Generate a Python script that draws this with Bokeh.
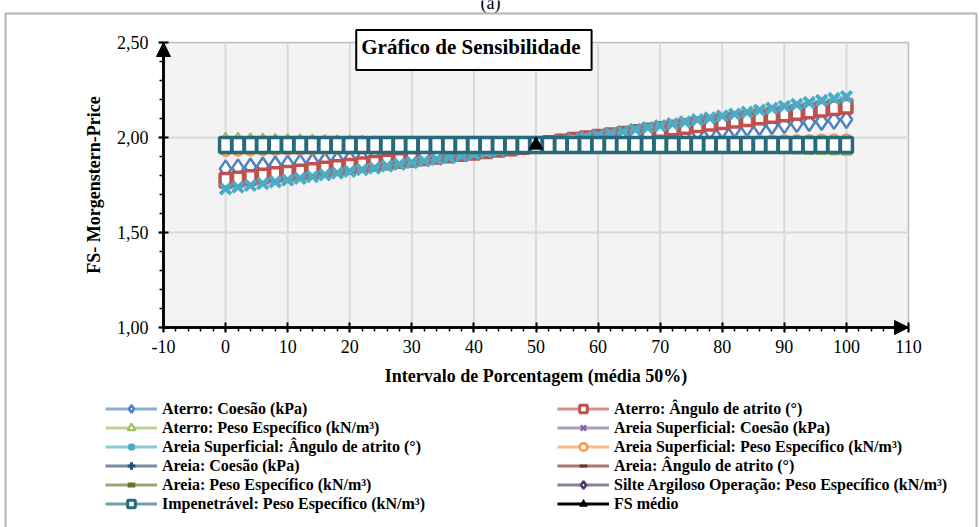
from bokeh.plotting import figure
from bokeh.models import (Range1d, FixedTicker, Legend, LegendItem, Label, Arrow,
                          NormalHead, CustomJSTickFormatter, BoxAnnotation)
from bokeh.embed import file_html
from bokeh.resources import INLINE

# ---------------- data ----------------
X = [0, 2, 4, 6, 8, 10, 12, 14, 16, 18, 20, 22, 24, 26, 28, 30, 32, 34, 36, 38,
     40, 42, 44, 46, 48, 50, 52, 54, 56, 58, 60, 62, 64, 66, 68, 70, 72, 74, 76, 78,
     80, 82, 84, 86, 88, 90, 92, 94, 96, 98, 100]

aterro_coesao = [1.835, 1.840, 1.845, 1.850, 1.855, 1.860, 1.865, 1.870, 1.875, 1.880,
                 1.885, 1.890, 1.895, 1.900, 1.905, 1.910, 1.915, 1.920, 1.925, 1.930,
                 1.935, 1.940, 1.945, 1.950, 1.955, 1.960, 1.965, 1.971, 1.976, 1.982,
                 1.987, 1.992, 1.998, 2.003, 2.009, 2.014, 2.019, 2.025, 2.030, 2.036,
                 2.041, 2.046, 2.052, 2.057, 2.063, 2.068, 2.073, 2.079, 2.084, 2.090, 2.095]
aterro_angulo = [1.775, 1.782, 1.790, 1.797, 1.805, 1.812, 1.819, 1.827, 1.834, 1.842,
                 1.849, 1.856, 1.864, 1.871, 1.879, 1.886, 1.893, 1.901, 1.908, 1.916,
                 1.923, 1.930, 1.938, 1.945, 1.953, 1.960, 1.968, 1.976, 1.985, 1.993,
                 2.001, 2.009, 2.017, 2.026, 2.034, 2.042, 2.050, 2.058, 2.067, 2.075,
                 2.083, 2.091, 2.099, 2.108, 2.116, 2.124, 2.132, 2.140, 2.149, 2.157, 2.165]
aterro_peso = [1.995, 1.994, 1.992, 1.991, 1.989, 1.988, 1.987, 1.985, 1.984, 1.982,
               1.981, 1.980, 1.978, 1.977, 1.975, 1.974, 1.973, 1.971, 1.970, 1.968,
               1.967, 1.966, 1.964, 1.963, 1.961, 1.960, 1.959, 1.957, 1.956, 1.954,
               1.953, 1.952, 1.950, 1.949, 1.947, 1.946, 1.945, 1.943, 1.942, 1.940,
               1.939, 1.938, 1.936, 1.935, 1.933, 1.932, 1.931, 1.929, 1.928, 1.926, 1.925]
areia_sup_coesao = [1.960, 1.960, 1.960, 1.960, 1.960, 1.960, 1.960, 1.960, 1.960, 1.960,
                    1.960, 1.960, 1.960, 1.960, 1.960, 1.960, 1.960, 1.960, 1.960, 1.960,
                    1.960, 1.960, 1.960, 1.960, 1.960, 1.960, 1.960, 1.960, 1.960, 1.960,
                    1.960, 1.960, 1.960, 1.960, 1.960, 1.960, 1.960, 1.960, 1.960, 1.960,
                    1.960, 1.960, 1.960, 1.960, 1.960, 1.960, 1.960, 1.960, 1.960, 1.960, 1.960]
areia_sup_angulo = [1.730, 1.739, 1.748, 1.758, 1.767, 1.776, 1.785, 1.794, 1.804, 1.813,
                    1.822, 1.831, 1.840, 1.850, 1.859, 1.868, 1.877, 1.886, 1.896, 1.905,
                    1.914, 1.923, 1.932, 1.942, 1.951, 1.960, 1.970, 1.980, 1.991, 2.001,
                    2.011, 2.021, 2.031, 2.042, 2.052, 2.062, 2.072, 2.082, 2.093, 2.103,
                    2.113, 2.123, 2.133, 2.144, 2.154, 2.164, 2.174, 2.184, 2.195, 2.205, 2.215]
areia_sup_peso = [1.930, 1.931, 1.932, 1.934, 1.935, 1.936, 1.937, 1.938, 1.940, 1.941,
                  1.942, 1.943, 1.944, 1.946, 1.947, 1.948, 1.949, 1.950, 1.952, 1.953,
                  1.954, 1.955, 1.956, 1.958, 1.959, 1.960, 1.961, 1.962, 1.964, 1.965,
                  1.966, 1.967, 1.968, 1.970, 1.971, 1.972, 1.973, 1.974, 1.976, 1.977,
                  1.978, 1.979, 1.980, 1.982, 1.983, 1.984, 1.985, 1.986, 1.988, 1.989, 1.990]
areia_coesao = [1.960, 1.960, 1.960, 1.960, 1.960, 1.960, 1.960, 1.960, 1.960, 1.960,
                1.960, 1.960, 1.960, 1.960, 1.960, 1.960, 1.960, 1.960, 1.960, 1.960,
                1.960, 1.960, 1.960, 1.960, 1.960, 1.960, 1.960, 1.960, 1.960, 1.960,
                1.960, 1.960, 1.960, 1.960, 1.960, 1.960, 1.960, 1.960, 1.960, 1.960,
                1.960, 1.960, 1.960, 1.960, 1.960, 1.960, 1.960, 1.960, 1.960, 1.960, 1.960]
areia_angulo = [1.960, 1.960, 1.960, 1.960, 1.960, 1.960, 1.960, 1.960, 1.960, 1.960,
                1.960, 1.960, 1.960, 1.960, 1.960, 1.960, 1.960, 1.960, 1.960, 1.960,
                1.960, 1.960, 1.960, 1.960, 1.960, 1.960, 1.960, 1.960, 1.960, 1.960,
                1.960, 1.960, 1.960, 1.960, 1.960, 1.960, 1.960, 1.960, 1.960, 1.960,
                1.960, 1.960, 1.960, 1.960, 1.960, 1.960, 1.960, 1.960, 1.960, 1.960, 1.960]
areia_peso = [1.960, 1.960, 1.960, 1.960, 1.960, 1.960, 1.960, 1.960, 1.960, 1.960,
              1.960, 1.960, 1.960, 1.960, 1.960, 1.960, 1.960, 1.960, 1.960, 1.960,
              1.960, 1.960, 1.960, 1.960, 1.960, 1.960, 1.960, 1.960, 1.960, 1.960,
              1.960, 1.960, 1.960, 1.960, 1.960, 1.960, 1.960, 1.960, 1.960, 1.960,
              1.960, 1.960, 1.960, 1.960, 1.960, 1.960, 1.960, 1.960, 1.960, 1.960, 1.960]
silte_peso = [1.960, 1.960, 1.960, 1.960, 1.960, 1.960, 1.960, 1.960, 1.960, 1.960,
              1.960, 1.960, 1.960, 1.960, 1.960, 1.960, 1.960, 1.960, 1.960, 1.960,
              1.960, 1.960, 1.960, 1.960, 1.960, 1.960, 1.960, 1.960, 1.960, 1.960,
              1.960, 1.960, 1.960, 1.960, 1.960, 1.960, 1.960, 1.960, 1.960, 1.960,
              1.960, 1.960, 1.960, 1.960, 1.960, 1.960, 1.960, 1.960, 1.960, 1.960, 1.960]
impenetravel_peso = [1.960, 1.960, 1.960, 1.960, 1.960, 1.960, 1.960, 1.960, 1.960, 1.960,
                     1.960, 1.960, 1.960, 1.960, 1.960, 1.960, 1.960, 1.960, 1.960, 1.960,
                     1.960, 1.960, 1.960, 1.960, 1.960, 1.960, 1.960, 1.960, 1.960, 1.960,
                     1.960, 1.960, 1.960, 1.960, 1.960, 1.960, 1.960, 1.960, 1.960, 1.960,
                     1.960, 1.960, 1.960, 1.960, 1.960, 1.960, 1.960, 1.960, 1.960, 1.960, 1.960]
fs_medio_x = [50]
fs_medio_y = [1.96]

series_names = [
    "Aterro: Coesão (kPa)",
    "Aterro: Ângulo de atrito (°)",
    "Aterro: Peso Específico (kN/m³)",
    "Areia Superficial: Coesão (kPa)",
    "Areia Superficial: Ângulo de atrito (°)",
    "Areia Superficial: Peso Específico (kN/m³)",
    "Areia: Coesão (kPa)",
    "Areia: Ângulo de atrito (°)",
    "Areia: Peso Específico (kN/m³)",
    "Silte Argiloso Operação: Peso Específico (kN/m³)",
    "Impenetrável: Peso Específico (kN/m³)",
    "FS médio",
]
series_values = [aterro_coesao, aterro_angulo, aterro_peso, areia_sup_coesao,
                 areia_sup_angulo, areia_sup_peso, areia_coesao, areia_angulo,
                 areia_peso, silte_peso, impenetravel_peso]

X_TICKS = [-10, 0, 10, 20, 30, 40, 50, 60, 70, 80, 90, 100, 110]
Y_TICKS = [1.0, 1.5, 2.0, 2.5]
X_AXIS = (-10, 110)
Y_AXIS = (1.0, 2.5)
# visible window around the plot area (room for axes, title and legend)
X_VIEW = (-36.255, 121.597)
Y_VIEW = (-0.0526, 2.7211)

# ---------------- styles ----------------
colors = ["#4F81BD", "#C0504D", "#9BBB59", "#8064A2", "#4BACC6", "#F79646",
          "#2C4D75", "#772C2A", "#5F7530", "#4D3B62", "#276A7C", "#000000"]
mstyle = [("diamond", 17, 2.5, "white"),
          ("square", 10, 3.0, "white"),
          ("triangle", 10, 2.0, "white"),
          ("x", 10, 2.5, None),
          ("x", 15, 4.0, None),
          ("circle", 10, 2.5, "white"),
          ("cross", 10, 3.0, None),
          ("dash", 8, 3.0, None),
          ("dash", 12, 5.0, None),
          ("diamond", 12, 2.5, "white"),
          ("square", 10, 3.0, "white"),
          ("triangle", 14, 1.0, "black")]
rect_dims = {1: (11, 13.5), 10: (12, 15)}

SERIF = "Liberation Serif"

p = figure(width=980, height=527, x_range=Range1d(*X_VIEW), y_range=Range1d(*Y_VIEW),
           output_backend="svg", toolbar_location=None, min_border=0,
           background_fill_color="white", border_fill_color="white")
p.outline_line_color = None

# outer frame of the figure
p.add_layout(BoxAnnotation(left=-35.45, right=120.95, top=2.6526, bottom=-0.3,
                           fill_color=None, line_color="black", line_width=2,
                           level="underlay"))
# plot area
p.add_layout(BoxAnnotation(left=X_AXIS[0], right=X_AXIS[1], bottom=Y_AXIS[0], top=Y_AXIS[1],
                           fill_color="#f3f3f3", fill_alpha=1.0, line_color="#333333",
                           line_width=1.5, level="underlay"))
p.grid.visible = False
p.segment(x0=X_TICKS[1:-1], y0=Y_AXIS[0], x1=X_TICKS[1:-1], y1=Y_AXIS[1],
          line_color="#d9d9d9", line_width=2)
p.segment(x0=X_AXIS[0], y0=Y_TICKS[1:-1], x1=X_AXIS[1], y1=Y_TICKS[1:-1],
          line_color="#d9d9d9", line_width=2)

p.xaxis.fixed_location = Y_AXIS[0]
p.yaxis.fixed_location = X_AXIS[0]
p.xaxis.bounds = X_AXIS
p.yaxis.bounds = Y_AXIS
p.xaxis.ticker = FixedTicker(ticks=X_TICKS, minor_ticks=list(range(-10, 111, 2)))
p.yaxis.ticker = FixedTicker(ticks=Y_TICKS, minor_ticks=[1 + 0.1 * i for i in range(16)])
p.yaxis.formatter = CustomJSTickFormatter(code="return tick.toFixed(2).replace('.', ',');")
p.xaxis.formatter = CustomJSTickFormatter(code="return tick.toFixed(0);")
for ax in (p.xaxis[0], p.yaxis[0]):
    ax.axis_line_color = "black"
    ax.axis_line_width = 2.5
    ax.major_tick_line_color = "black"
    ax.major_tick_line_width = 2
    ax.minor_tick_line_color = "black"
    ax.minor_tick_line_width = 1.5
    ax.major_tick_in = 5
    ax.major_tick_out = 5
    ax.minor_tick_in = 0
    ax.minor_tick_out = 4
    ax.major_label_text_font = SERIF
    ax.major_label_text_font_size = "18px"
    ax.major_label_text_color = "black"
    ax.axis_label_text_font = SERIF
    ax.axis_label_text_font_size = "18px"
    ax.axis_label_text_font_style = "bold"
    ax.axis_label_text_color = "black"
p.xaxis.major_label_standoff = 7
p.yaxis.major_label_standoff = 10
p.xaxis.axis_label = "Intervalo de Porcentagem (média 50%)"
p.yaxis.axis_label = "FS- Morgenstern-Price"
p.xaxis.axis_label_standoff = 10
p.yaxis.axis_label_standoff = 10

legend_items = []
for i, name in enumerate(series_names):
    c = colors[i]
    mk, sz, lw, fill = mstyle[i]
    if i < 11:
        ys = series_values[i]
        xs = X
    else:
        ys = fs_medio_y
        xs = fs_medio_x
    lr = p.line(xs, ys, line_color=c, line_width=3, line_alpha=0.65 if i < 11 else 1.0)
    lm = p.scatter(xs, ys, marker=mk, size=sz, line_color=c, line_width=lw,
                   fill_color=fill if fill else c)
    if mk == "square":
        # taller boxes drawn over the legend marker renderer
        w, h = rect_dims[i]
        p.rect(xs, ys, width=w, height=h, width_units="screen", height_units="screen",
               fill_color=fill, line_color=c, line_width=lw + 0.5)
    legend_items.append(LegendItem(label=name, renderers=[lr, lm]))

legend = Legend(items=legend_items, location=(105, 14), orientation="horizontal", ncols=2,
                padding=0, margin=0, spacing=0, glyph_width=52, glyph_height=19,
                label_height=19, label_width=395, label_standoff=5,
                label_text_font=SERIF, label_text_font_size="16px",
                label_text_font_style="bold", label_text_color="black",
                background_fill_alpha=0, border_line_alpha=0)
p.add_layout(legend)

# axis arrow heads
p.add_layout(Arrow(end=NormalHead(size=14, fill_color="black", line_color="black"),
                   x_start=X_AXIS[0], y_start=Y_AXIS[0], x_end=X_AXIS[0], y_end=Y_AXIS[1],
                   line_color="black", line_width=2.5))
p.add_layout(Arrow(end=NormalHead(size=14, fill_color="black", line_color="black"),
                   x_start=X_AXIS[0], y_start=Y_AXIS[0], x_end=X_AXIS[1], y_end=Y_AXIS[0],
                   line_color="black", line_width=2.5))

p.add_layout(Label(x=40, y=2.4605, text="Gráfico de Sensibilidade", text_align="center",
                   text_baseline="middle", text_font=SERIF, text_font_size="21px",
                   text_font_style="bold", text_color="black",
                   background_fill_color="white", border_line_color="black",
                   border_line_width=2, padding=(5, 11, 5, 11)))
p.add_layout(Label(x=42.67, y=2.7105, text="(a)", text_align="center",
                   text_baseline="alphabetic", text_font=SERIF, text_font_size="18px",
                   text_color="black"))

open("out.html", "w").write(file_html(p, INLINE))
